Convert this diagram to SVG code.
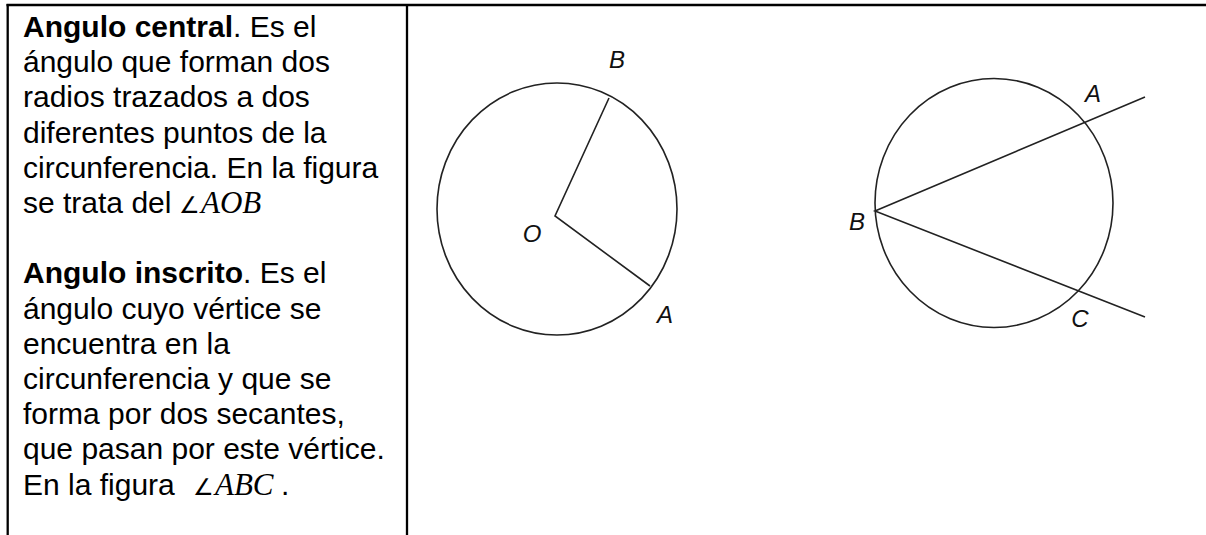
<svg xmlns="http://www.w3.org/2000/svg" width="1206" height="535" viewBox="0 0 1206 535">
<style>
.txt{font-family:"Liberation Sans",Arial,sans-serif;font-size:30px;fill:#000}
.b{font-weight:bold}
.math{font-family:"Liberation Serif","Times New Roman",serif;font-style:italic;font-size:31px}
.ang{font-family:"DejaVu Sans","Liberation Serif",serif;font-style:normal;font-size:23px}
.lbl{font-family:"Liberation Sans",Arial,sans-serif;font-style:italic;font-size:24px;fill:#111;text-anchor:middle}
.geo{fill:none;stroke:#222;stroke-width:1.6}
.border{stroke:#000;stroke-width:2.3;fill:none}
</style>
<rect width="1206" height="535" fill="#fff"/>
<g id="table">
<line class="border" x1="6.5" y1="5" x2="1206" y2="5"/>
<line class="border" x1="7.7" y1="4" x2="7.7" y2="535"/>
<line class="border" x1="407" y1="4" x2="407" y2="535"/>
</g>
<g id="text" class="txt">
<text x="23" y="37"><tspan class="b">Angulo central</tspan>. Es el</text>
<text x="23" y="72.2">ángulo que forman dos</text>
<text x="23" y="107.4">radios trazados a dos</text>
<text x="23" y="142.6">diferentes puntos de la</text>
<text x="23" y="177.8">circunferencia. En la figura</text>
<text x="23" y="213">se trata del</text>
<text x="179" y="213" class="ang">∠</text>
<text x="201" y="213" class="math">AOB</text>
<text x="23" y="283.4"><tspan class="b">Angulo inscrito</tspan>. Es el</text>
<text x="23" y="318.6">ángulo cuyo vértice se</text>
<text x="23" y="353.8">encuentra en la</text>
<text x="23" y="389">circunferencia y que se</text>
<text x="23" y="424.2">forma por dos secantes,</text>
<text x="23" y="459.4">que pasan por este vértice.</text>
<text x="23" y="494.6">En la figura</text>
<text x="193" y="494.6" class="ang">∠</text>
<text x="215" y="494.6" class="math">ABC</text>
<text x="281" y="494.6">.</text>
</g>
<g id="central-angle">
<ellipse class="geo" cx="557" cy="209" rx="120" ry="126"/>
<polyline class="geo" points="609,98 555,216 650,286"/>
<text class="lbl" x="617" y="68">B</text>
<text class="lbl" x="532" y="242">O</text>
<text class="lbl" x="665" y="323">A</text>
</g>
<g id="inscribed-angle">
<ellipse class="geo" cx="994" cy="203" rx="119" ry="124.5"/>
<polyline class="geo" points="1145,97 875,211 1145,317"/>
<text class="lbl" x="1093" y="102">A</text>
<text class="lbl" x="857" y="229.5">B</text>
<text class="lbl" x="1080" y="327">C</text>
</g>
</svg>
